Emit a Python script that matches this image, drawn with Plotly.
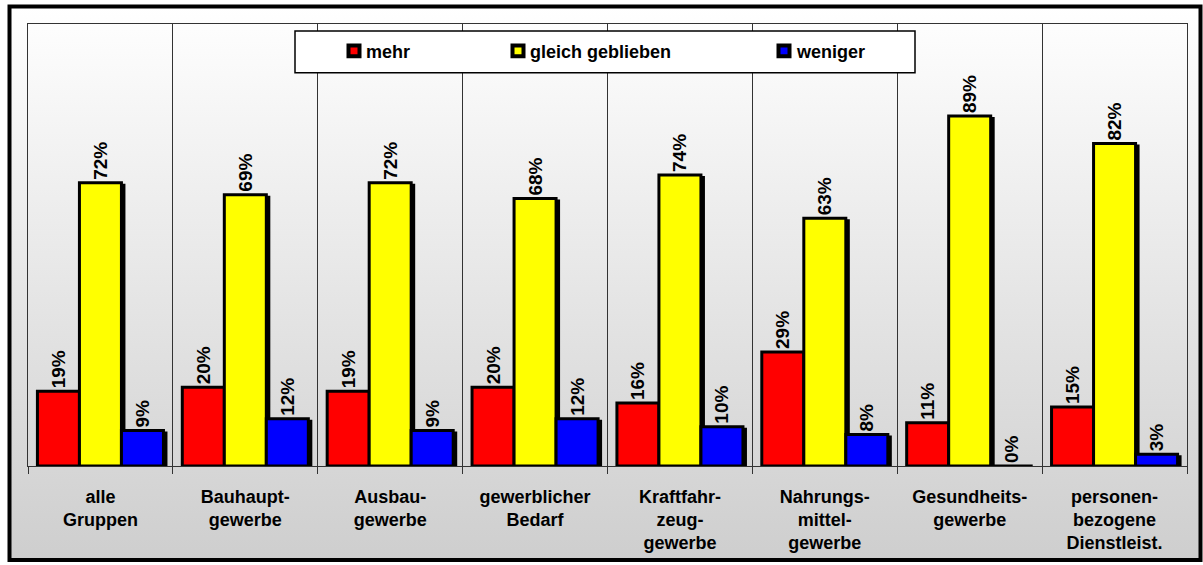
import base64
import plotly.graph_objects as go

categories = ["alle<br>Gruppen", "Bauhaupt-<br>gewerbe", "Ausbau-<br>gewerbe",
              "gewerblicher<br>Bedarf", "Kraftfahr-<br>zeug-<br>gewerbe",
              "Nahrungs-<br>mittel-<br>gewerbe", "Gesundheits-<br>gewerbe",
              "personen-<br>bezogene<br>Dienstleist."]
mehr = [19, 20, 19, 20, 16, 29, 11, 15]
gleich = [72, 69, 72, 68, 74, 63, 89, 82]
weniger = [9, 12, 9, 12, 10, 8, 0, 3]
series_names = ["mehr", "gleich geblieben", "weniger"]
colors = ["#ff0000", "#ffff00", "#0000ff"]

W, H = 1203, 565
L, R, T, B = 28, 16, 24, 97
plot_w = W - L - R
plot_h = H - T - B
y_max = 112.4
cat_px = plot_w / len(categories)


def px_x(px):
    return (px - L) / plot_w


def px_y(py):
    return (H - B - py) / plot_h


font = dict(family="Liberation Sans, Arial, sans-serif", size=18, color="black", weight="bold")
label_font = dict(font, size=19)

bar_w = 0.29
shift_x = 2.5 / cat_px
shift_y = 2.5 * y_max / plot_h

fig = go.Figure()
for i, (name, vals, col) in enumerate(zip(series_names, [mehr, gleich, weniger], colors)):
    off = (i - 1.5) * bar_w
    # shadow
    fig.add_bar(x=categories, y=vals, base=-shift_y, offset=off + shift_x, width=bar_w,
                marker=dict(color="black", line=dict(color="black", width=3)),
                showlegend=False, hoverinfo="skip")
    fig.add_bar(x=categories, y=vals, offset=off, width=bar_w, name=name,
                marker=dict(color=col, line=dict(color="black", width=3)),
                text=[f"{v}%" for v in vals], textposition="outside", textangle=-90,
                textfont=label_font, constraintext="none", cliponaxis=False, showlegend=False)

# background gradient
svg = ('<svg xmlns="http://www.w3.org/2000/svg" width="100" height="100" preserveAspectRatio="none">'
       '<defs><linearGradient id="g" x1="0" y1="0" x2="0" y2="1">'
       '<stop offset="0" stop-color="#ffffff"/><stop offset="1" stop-color="#cecece"/>'
       '</linearGradient></defs><rect width="100" height="100" fill="url(#g)"/></svg>')
src = "data:image/svg+xml;base64," + base64.b64encode(svg.encode()).decode()
fig.add_layout_image(source=src, xref="paper", yref="paper", x=px_x(9), y=px_y(6),
                     sizex=px_x(1201) - px_x(9), sizey=px_y(6) - px_y(563),
                     xanchor="left", yanchor="top", sizing="stretch", layer="below")

# outer frame
fig.add_shape(type="rect", xref="paper", yref="paper", x0=px_x(9.5), x1=px_x(1200.5),
              y0=px_y(562.5), y1=px_y(6.3), line=dict(color="black", width=4))

# legend box
fig.add_shape(type="rect", xref="paper", yref="paper", x0=px_x(295), x1=px_x(915),
              y0=px_y(73), y1=px_y(31), fillcolor="white", line=dict(color="black", width=1.5),
              layer="above")
leg_x = [354, 518, 784]
for name, col, cx in zip(series_names, colors, leg_x):
    fig.add_shape(type="rect", xref="paper", yref="paper", x0=px_x(cx - 5.5), x1=px_x(cx + 5.5),
                  y0=px_y(56.5), y1=px_y(45.5), fillcolor=col, line=dict(color="black", width=4),
                  layer="above")
    fig.add_annotation(text=name, xref="paper", yref="paper", x=px_x(cx + 10), y=px_y(52),
                       xanchor="left", yanchor="middle", showarrow=False, font=font)

fig.update_layout(
    width=W, height=H,
    margin=dict(l=L, r=R, t=T, b=B),
    paper_bgcolor="white",
    plot_bgcolor="rgba(0,0,0,0)",
    barmode="overlay",
    showlegend=False,
    xaxis=dict(type="category", range=[-0.5, 7.5], tickson="boundaries", ticks="outside",
               ticklen=7, tickcolor="#333", showgrid=True, gridcolor="#333", gridwidth=1,
               showline=True, mirror=True, linecolor="#333", linewidth=1,
               tickfont=font, tickangle=0, ticklabelstandoff=14),
    yaxis=dict(range=[0, y_max], showgrid=False, showticklabels=False, ticks="",
               showline=True, mirror=True, linecolor="#333", linewidth=1, zeroline=False),
)

fig.write_html("out.html", config={"displayModeBar": False},
               post_script="document.body.style.margin='0';")
